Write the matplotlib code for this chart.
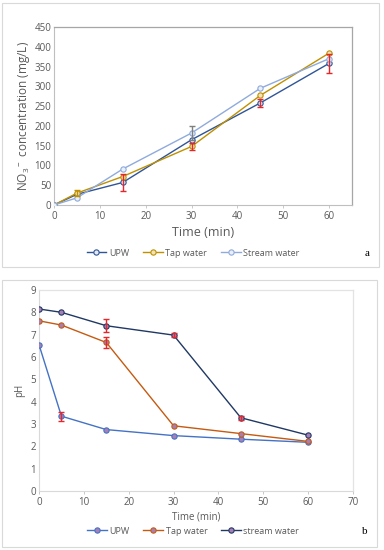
import matplotlib
matplotlib.use('Agg')
from matplotlib import pyplot as plt
from matplotlib.patches import Rectangle

plt.rcParams['font.family'] = ['Open Sans', 'DejaVu Sans']
plt.rcParams['mathtext.default'] = 'regular'

# panel a: nitrate
time_a = [0, 5, 15, 30, 45, 60]
upw_a = [0, 27, 57, 165, 258, 358]
upw_a_err = [0, 0, 22, 0, 11, 25]
tap_a = [0, 30, 72, 148, 277, 384]
tap_a_err = [0, 8, 0, 9, 0, 0]
stream_a = [0, 18, 91, 182, 295, 370]
stream_a_err = [0, 0, 0, 17, 0, 0]

# panel b: pH
time_b = [0, 5, 15, 30, 45, 60]
upw_b = [6.55, 3.35, 2.75, 2.48, 2.32, 2.18]
upw_b_err = [0, 0.2, 0, 0, 0, 0]
tap_b = [7.62, 7.43, 6.65, 2.92, 2.57, 2.22]
tap_b_err = [0, 0, 0.25, 0, 0, 0]
stream_b = [8.15, 8.0, 7.4, 6.98, 3.28, 2.5]
stream_b_err = [0, 0, 0.3, 0.08, 0.08, 0]

W, H = 384, 550
fig = plt.figure(figsize=(W / 100, H / 100), dpi=100)
fig.patch.set_facecolor('white')

def px_axes(left, top, right, bottom):
    return fig.add_axes([left / W, 1 - bottom / H, (right - left) / W, (bottom - top) / H])

# outer frames of the two panels
for (l, t, r, b) in [(2, 3, 379, 267), (2, 280, 377, 547)]:
    fig.add_artist(Rectangle((l / W, 1 - b / H), (r - l) / W, (b - t) / H,
                             transform=fig.transFigure, fill=False,
                             edgecolor='#d9d9d9', linewidth=0.8))

tick_col = '#595959'

def style_axes(ax, spine_col, frame_col):
    for side in ['left', 'bottom']:
        ax.spines[side].set_color(spine_col)
        ax.spines[side].set_linewidth(0.8)
    for side in ['top', 'right']:
        ax.spines[side].set_color(frame_col)
        ax.spines[side].set_linewidth(0.9)
    ax.tick_params(axis='both', labelsize=7, colors=tick_col, length=2.5,
                   width=0.6, direction='out', pad=2)
    ax.tick_params(axis='x', color='#bfbfbf')
    ax.tick_params(axis='y', length=0)

def draw(ax, x, y, err, color, err_cols, label, face):
    ax.plot(x, y, color=color, lw=1.0, marker='o', ms=3.8,
            markerfacecolor=face, markeredgecolor=color, mew=0.8,
            label=label, zorder=3)
    for xi, yi, ei, ec in zip(x, y, err, err_cols):
        if ei > 0:
            ax.errorbar(xi, yi, yerr=ei, fmt='none', ecolor=ec,
                        elinewidth=1.0, capsize=2.0, capthick=1.0, zorder=4)

# ---- panel a
ax1 = px_axes(54, 27, 352, 205)
red = '#e8262a'
draw(ax1, time_a, upw_a, upw_a_err, '#2f5597', [red] * 6, 'UPW', '#e3e8f2')
draw(ax1, time_a, tap_a, tap_a_err, '#bf9000',
     ['#bf9000', '#bf9000', red, red, red, red], 'Tap water', '#f0e3bb')
draw(ax1, time_a, stream_a, stream_a_err, '#8faadc', ['#7f7f7f'] * 6,
     'Stream water', '#eaf0f9')
ax1.set_xlim(0, 65)
ax1.set_ylim(0, 450)
ax1.set_xticks(range(0, 61, 10))
ax1.set_yticks(range(0, 451, 50))
style_axes(ax1, '#bfbfbf', '#a6a6a6')
ax1.set_xlabel('Time (min)', fontsize=9, color=tick_col, labelpad=3)
ax1.set_ylabel(r'NO$_3$$^-$ concentration (mg/L)', fontsize=8.5,
               color=tick_col, labelpad=2)
ax1.legend(loc='center', bbox_to_anchor=(193 / W, 1 - 253 / H),
           bbox_transform=fig.transFigure, ncol=3, frameon=False,
           fontsize=6.5, handlelength=2.2, handletextpad=0.3, columnspacing=1.5,
           labelcolor=tick_col)
fig.text(367 / W, 1 - 253 / H, 'a', fontsize=8, family='Liberation Serif',
         ha='center', va='center')

# ---- panel b
ax2 = px_axes(39, 290, 353, 491)
purple = '#a77fb5'
draw(ax2, time_b, upw_b, upw_b_err, '#4472c4', [red] * 6, 'UPW', purple)
draw(ax2, time_b, tap_b, tap_b_err, '#c55a11', [red] * 6, 'Tap water', purple)
draw(ax2, time_b, stream_b, stream_b_err, '#203864', [red] * 6,
     'stream water', purple)
ax2.set_xlim(0, 70)
ax2.set_ylim(0, 9)
ax2.set_xticks(range(0, 71, 10))
ax2.set_yticks(range(0, 10))
style_axes(ax2, '#d9d9d9', '#e3e3e3')
ax2.set_xlabel('Time (min)', fontsize=7, color=tick_col, labelpad=2)
ax2.set_ylabel('pH', fontsize=7, color=tick_col, labelpad=4)
ax2.legend(loc='center', bbox_to_anchor=(193 / W, 1 - 531 / H),
           bbox_transform=fig.transFigure, ncol=3, frameon=False,
           fontsize=6.5, handlelength=2.2, handletextpad=0.3, columnspacing=1.5,
           labelcolor=tick_col)
fig.text(365 / W, 1 - 531 / H, 'b', fontsize=8, family='Liberation Serif',
         ha='center', va='center')

fig.savefig('out.png', dpi=100)
